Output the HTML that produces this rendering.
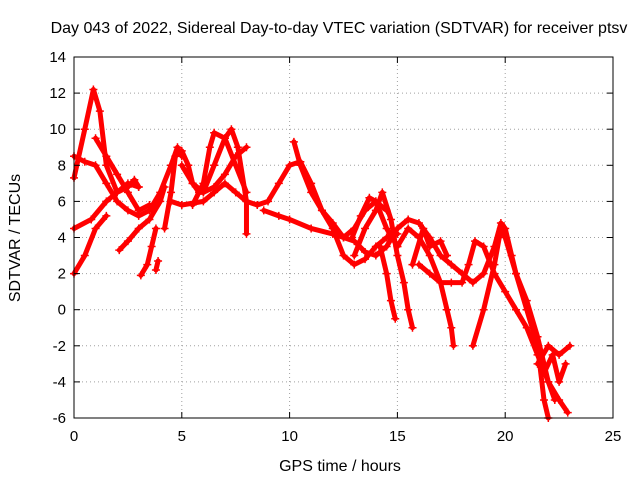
<!DOCTYPE html>
<html><head><meta charset="utf-8"><style>
body{margin:0;background:#fff}
svg{display:block;font-family:"Liberation Sans",sans-serif}
</style></head><body>
<svg id="chart" width="640" height="480">
<text x="339" y="33" text-anchor="middle" font-size="16">Day 043 of 2022, Sidereal Day-to-day VTEC variation (SDTVAR) for receiver ptsv</text>
<text x="340" y="471" text-anchor="middle" font-size="16">GPS time / hours</text>
<text transform="translate(20,238) rotate(-90)" text-anchor="middle" font-size="16">SDTVAR / TECUs</text>
<g id="grid"></g><g id="series"></g><g id="axes"></g>
</svg>
<script>
const xTicks=[0,5,10,15,20,25];
const yTicks=[-6,-4,-2,0,2,4,6,8,10,12,14];
const trackA=[[0,7.3],[0.5,10],[0.9,12.2],[1.2,11],[1.5,8],[2,6.5],[2.5,6.8],[2.8,7.2],[3,6.8]];
const trackB=[[0,8.5],[0.5,8.2],[1,8],[1.5,7],[2,6],[2.5,5.5],[3,5.2],[3.5,5.5],[4,6.5],[4.5,8],[4.8,9],[5,8.5]];
const trackC=[[0,2],[0.5,3],[1,4.5],[1.5,5.2]];
const trackD=[[0,4.5],[0.8,5],[1.5,6],[2,6.5],[2.5,7],[3,6.8]];
const trackE=[[1,9.5],[1.5,8.5],[2,7.5],[2.5,6.5],[3,5.5],[3.5,5.8]];
const trackF=[[2.1,3.3],[2.5,3.8],[3,4.5],[3.5,5],[4,6],[4.2,6.8]];
const trackG=[[3.1,1.9],[3.4,2.5],[3.6,3.5],[3.8,4.5]];
const trackH=[[3.8,2.2],[3.9,2.7]];
const trackI=[[4.2,4.5],[4.5,6.5],[4.7,8.5],[5,8.8],[5.3,8],[5.5,7],[6,6.5],[6.5,6.8],[7,7.5],[7.5,8.5],[8,9]];
const trackJ=[[4.5,6],[5,5.8],[6,6],[6.5,6.5],[7,7],[7.5,6.5],[8,6],[8.5,5.8]];
const trackK=[[5,8],[5.5,7],[5.8,6.5],[6,6.5],[6.5,8],[7,9.5],[7.3,10],[7.6,9],[8,6],[8,4.2]];
const trackL=[[5.5,5.8],[6,7],[6.3,9],[6.5,9.8],[7,9.5],[7.5,8],[8,6.5]];
const trackM=[[8.5,5.8],[9,6],[9.5,7],[10,8],[10.5,8.2],[11,7],[11.5,5.5],[12,4.5],[12.5,3],[13,2.5],[13.5,2.8],[14,3.5],[14.5,4],[15,4.2]];
const trackN=[[10.2,9.3],[10.5,8],[11,6.5],[11.5,5.5],[12,4.8],[12.5,4],[13,4.5],[13.5,5.5],[14,6],[14.5,5.5]];
const trackO=[[8.8,5.5],[9.5,5.2],[10,5],[11,4.5],[12,4.2],[12.5,4],[13,3.8],[13.5,3.2],[14,3],[14.5,3.5],[15,4.5],[15.5,5],[16,4.8],[16.5,4],[17,3],[17.5,2.5],[18,2],[18.5,1.5],[19,2],[19.5,3.5],[19.8,4.8],[20,4.5],[20.3,3],[20.5,2],[21,0.5],[21.5,-1.5],[22,-4],[22.5,-5],[22.9,-5.7]];
const trackP=[[13,3],[13.5,4.5],[14,5.5],[14.3,6.5],[14.7,5],[15,3],[15.3,1.5],[15.5,0],[15.7,-1]];
const trackQ=[[14.2,3.5],[14.5,2],[14.7,0.5],[14.9,-0.5]];
const trackR=[[15,3.5],[15.5,4.5],[16,4],[16.5,3],[17,1.5],[17.3,0],[17.5,-1],[17.6,-2]];
const trackS=[[16,2.5],[16.5,2],[17,1.5],[17.5,1.5],[18,1.5],[18.3,2.5],[18.6,3.8],[19,3.5],[19.5,2],[20,1],[20.5,0],[21,-1],[21.5,-2.5],[22,-4],[22.3,-5]];
const trackT=[[18.5,-2],[19,0],[19.5,2.5],[19.8,4.5],[20,4],[20.5,2],[21,0],[21.5,-2],[21.8,-5],[22,-6]];
const trackU=[[21.5,-3],[22,-2],[22.5,-2.5],[23,-2]];
const trackV=[[21.8,-3.5],[22.2,-2.5],[22.5,-4],[22.8,-3]];
const trackW=[[15.7,2.5],[16.2,4.5],[16.5,3.5],[17,3.8],[17.3,3]];
const trackX=[[12.9,4],[13.3,5.2],[13.7,6.2],[14,6],[14.5,4.5],[15,3.5]];
const tracks=[trackA,trackB,trackC,trackD,trackE,trackF,trackG,trackH,trackI,trackJ,trackK,trackL,trackM,trackN,trackO,trackP,trackQ,trackR,trackS,trackT,trackU,trackV,trackW,trackX];
const L=74,R=613,T=57,B=418;
const sx=v=>L+(v-0)/(25-0)*(R-L);
const sy=v=>B-(v+6)/(14+6)*(B-T);
const NS="http://www.w3.org/2000/svg";
function mk(tag,attrs,parent){const e=document.createElementNS(NS,tag);for(const k in attrs)e.setAttribute(k,attrs[k]);parent.appendChild(e);return e;}
const grid=document.getElementById('grid'),axes=document.getElementById('axes'),ser=document.getElementById('series');
xTicks.forEach(t=>{
 if(t>0&&t<25){const g=mk('line',{x1:sx(t),x2:sx(t),y1:T,y2:B,stroke:'#a0a0a0','stroke-dasharray':'1,3'},grid);
 
 }
 mk('line',{x1:sx(t),x2:sx(t),y1:B,y2:B-6,stroke:'#000'},axes);
 mk('line',{x1:sx(t),x2:sx(t),y1:T,y2:T+6,stroke:'#000'},axes);
 const tx=mk('text',{x:sx(t),y:B+23,'text-anchor':'middle','font-size':15},axes);
 tx.textContent=t;
 
 
});
yTicks.forEach(t=>{
 if(t>-6&&t<14){const g=mk('line',{x1:L,x2:R,y1:sy(t),y2:sy(t),stroke:'#a0a0a0','stroke-dasharray':'1,3'},grid);
 
 }
 mk('line',{x1:L,x2:L+6,y1:sy(t),y2:sy(t),stroke:'#000'},axes);
 mk('line',{x1:R,x2:R-6,y1:sy(t),y2:sy(t),stroke:'#000'},axes);
 const tx=mk('text',{x:L-8,y:sy(t)+5,'text-anchor':'end','font-size':15},axes);
 tx.textContent=t;
 
 
});
const frame=mk('rect',{x:L,y:T,width:R-L,height:B-T,fill:'none',stroke:'#000'},axes);


tracks.forEach((tr,i)=>{
 const pts=tr.map(p=>sx(p[0])+','+sy(p[1])).join(' ');
 const pl=mk('polyline',{points:pts,fill:'none',stroke:'#ff0000','stroke-width':5,'stroke-linejoin':'round','stroke-linecap':'round'},ser);
 
 
 tr.forEach(p=>{
  const x=sx(p[0]),y=sy(p[1]);
  const m=mk('path',{d:`M${x-4},${y}H${x+4}M${x},${y-4}V${y+4}`,stroke:'#ff0000','stroke-width':1.5},ser);
  
  
 });
});
</script>
</body></html>
